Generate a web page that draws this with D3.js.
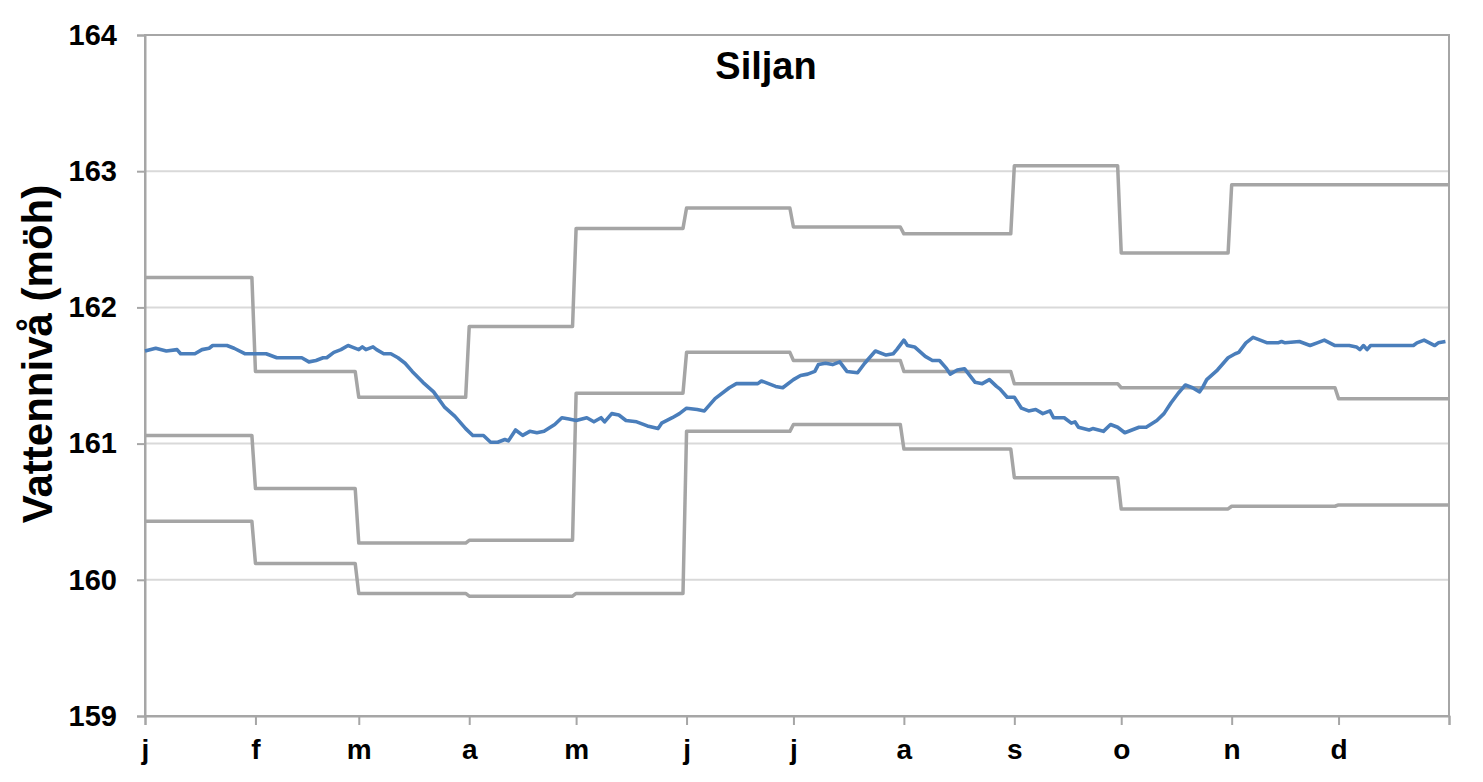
<!DOCTYPE html>
<html>
<head>
<meta charset="utf-8">
<script src="https://cdn.jsdelivr.net/npm/d3@7"></script>
<style>
  body { margin: 0; background: #fff; }
  text { font-family: 'Liberation Sans', Arial, sans-serif; font-weight: bold; fill: #000; }
</style>
</head>
<body>
<script>
// month labels and first day of each month (leap year, day index from 0)
var monthLabels = ['j', 'f', 'm', 'a', 'm', 'j', 'j', 'a', 's', 'o', 'n', 'd'];
var monthStarts = [0, 31, 60, 91, 121, 152, 182, 213, 244, 274, 305, 335, 366];
var yTicks = [159, 160, 161, 162, 163, 164];

// monthly max / mean / min levels (möh)
var maxLevel = [162.22, 161.53, 161.34, 161.86, 162.58, 162.73, 162.59, 162.54, 163.04, 162.40, 162.90, 162.90];
var meanLevel = [161.06, 160.67, 160.27, 160.29, 161.37, 161.67, 161.61, 161.53, 161.44, 161.41, 161.41, 161.33];
var minLevel = [160.43, 160.12, 159.90, 159.88, 159.90, 161.09, 161.14, 160.96, 160.75, 160.52, 160.54, 160.55];

// current year level
var levelDays = [0, 3, 6, 9, 10, 14, 16, 18, 19, 23, 25, 28, 34, 37, 44, 46, 48, 50, 51, 53,
  55, 57, 58, 60, 61, 62, 64, 65, 67, 69, 71, 73, 75, 78, 81, 84, 87, 90, 92, 95,
  97, 99, 101, 102, 104, 106, 108, 110, 112, 115, 117, 119, 121, 124, 126, 128, 129, 131, 133, 135,
  138, 141, 144, 145, 148, 150, 152, 155, 157, 160, 164, 166, 172, 173, 175, 177, 179, 182, 184, 186,
  188, 189, 191, 193, 195, 197, 200, 202, 205, 208, 210, 211, 213, 214, 216, 219, 221, 223, 225, 226,
  228, 230, 233, 235, 237, 239, 240, 242, 244, 246, 248, 250, 252, 254, 255, 258, 260, 261, 262, 265,
  266, 269, 271, 273, 275, 277, 279, 281, 284, 286, 288, 290, 291, 292, 294, 296, 297, 298, 301, 304,
  306, 307, 309, 311, 313, 315, 318, 319, 320, 324, 327, 329, 331, 334, 338, 340, 341, 342, 343, 344,
  347, 349, 352, 356, 357, 359, 362, 363, 365];
var levelValues = [161.68, 161.70, 161.68, 161.69, 161.66, 161.66, 161.69, 161.70, 161.72, 161.72, 161.70, 161.66, 161.66, 161.63, 161.63, 161.60, 161.61, 161.63, 161.63, 161.67,
  161.69, 161.72, 161.71, 161.69, 161.71, 161.69, 161.71, 161.69, 161.66, 161.66, 161.63, 161.59, 161.53, 161.45, 161.38, 161.27, 161.20, 161.11, 161.06, 161.06,
  161.01, 161.01, 161.03, 161.02, 161.10, 161.06, 161.09, 161.08, 161.09, 161.14, 161.19, 161.18, 161.17, 161.19, 161.16, 161.19, 161.16, 161.22, 161.21, 161.17,
  161.16, 161.13, 161.11, 161.15, 161.19, 161.22, 161.26, 161.25, 161.24, 161.33, 161.41, 161.44, 161.44, 161.46, 161.44, 161.42, 161.41, 161.47, 161.50, 161.51,
  161.53, 161.58, 161.59, 161.58, 161.60, 161.53, 161.52, 161.59, 161.68, 161.65, 161.66, 161.69, 161.76, 161.72, 161.71, 161.64, 161.61, 161.61, 161.55, 161.51,
  161.54, 161.55, 161.45, 161.44, 161.47, 161.42, 161.40, 161.34, 161.34, 161.26, 161.24, 161.25, 161.22, 161.24, 161.19, 161.19, 161.15, 161.16, 161.12, 161.10,
  161.11, 161.09, 161.14, 161.12, 161.08, 161.10, 161.12, 161.12, 161.17, 161.22, 161.30, 161.37, 161.40, 161.43, 161.41, 161.38, 161.42, 161.47, 161.54, 161.63,
  161.66, 161.67, 161.74, 161.78, 161.76, 161.74, 161.74, 161.75, 161.74, 161.75, 161.72, 161.74, 161.76, 161.72, 161.72, 161.71, 161.69, 161.72, 161.69, 161.72,
  161.72, 161.72, 161.72, 161.72, 161.74, 161.76, 161.72, 161.74, 161.75];

var width = 1483, height = 782;
var margin = {top: 35, right: 34, bottom: 66, left: 145};

var svg = d3.select(document.body)
    .append('svg')
    .attr('width', width)
    .attr('height', height);

var x = d3.scaleLinear().domain([0, 366]).range([margin.left, width - margin.right]);
var y = d3.scaleLinear().domain([159, 164]).range([height - margin.bottom, margin.top]);

// gridlines
svg.append('g')
    .selectAll('line')
    .data(yTicks)
    .enter()
    .append('line')
    .attr('x1', x(0))
    .attr('x2', x(366))
    .attr('y1', function(d) { return y(d); })
    .attr('y2', function(d) { return y(d); })
    .attr('stroke', '#d9d9d9')
    .attr('stroke-width', 2);

// plot border
svg.append('rect')
    .attr('x', x(0))
    .attr('y', y(164))
    .attr('width', x(366) - x(0))
    .attr('height', y(159) - y(164))
    .attr('fill', 'none')
    .attr('stroke', '#a6a6a6')
    .attr('stroke-width', 2);

// y axis
var yAxis = svg.append('g')
    .attr('transform', 'translate(' + x(0) + ',0)')
    .call(d3.axisLeft(y).tickValues(yTicks).tickFormat(d3.format('d')).tickSize(8).tickPadding(20));
yAxis.select('.domain').attr('stroke', '#a6a6a6').attr('stroke-width', 2);
yAxis.selectAll('.tick line').attr('stroke', '#a6a6a6').attr('stroke-width', 2);
yAxis.selectAll('.tick text').style('font-size', '29px').attr('fill', '#000');

// x axis, ticks at month starts, labels under them
var xAxis = svg.append('g')
    .attr('transform', 'translate(0,' + y(159) + ')')
    .call(d3.axisBottom(x).tickValues(monthStarts).tickFormat(function(d, i) {
      return i < monthLabels.length ? monthLabels[i] : '';
    }).tickSize(9).tickPadding(14));
xAxis.select('.domain').attr('stroke', '#a6a6a6').attr('stroke-width', 2);
xAxis.selectAll('.tick line').attr('stroke', '#a6a6a6').attr('stroke-width', 2);
xAxis.selectAll('.tick text').style('font-size', '28px').attr('fill', '#000');

// monthly step lines
function stepPoints(values) {
  var pts = [];
  values.forEach(function(v, i) {
    var end = i == values.length - 1 ? monthStarts[i + 1] : monthStarts[i + 1] - 1;
    pts.push([monthStarts[i], v]);
    pts.push([end, v]);
  });
  return pts;
}

var line = d3.line()
    .x(function(d) { return x(d[0]); })
    .y(function(d) { return y(d[1]); });

[maxLevel, meanLevel, minLevel].forEach(function(series) {
  svg.append('path')
      .attr('d', line(stepPoints(series)))
      .attr('fill', 'none')
      .attr('stroke', '#a5a5a5')
      .attr('stroke-width', 3.5)
      .attr('stroke-linejoin', 'round');
});

// current level
svg.append('path')
    .attr('d', line(levelDays.map(function(d, i) { return [d, levelValues[i]]; })))
    .attr('fill', 'none')
    .attr('stroke', '#4a7ebb')
    .attr('stroke-width', 3.6)
    .attr('stroke-linejoin', 'round');

// title
svg.append('text')
    .attr('x', 766)
    .attr('y', 79)
    .attr('text-anchor', 'middle')
    .style('font-size', '38px')
    .text('Siljan');

// y label
svg.append('text')
    .attr('transform', 'translate(52,354) rotate(-90)')
    .attr('text-anchor', 'middle')
    .style('font-size', '42px')
    .text('Vattennivå (möh)');
</script>
</body>
</html>
